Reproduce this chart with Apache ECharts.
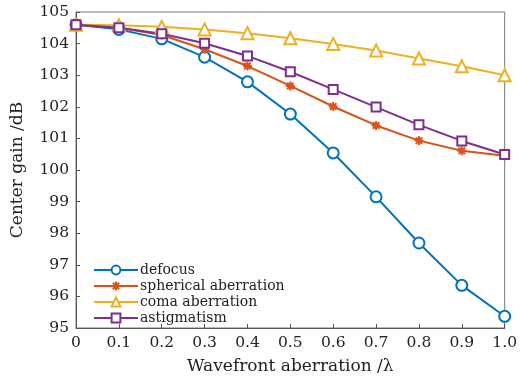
<!DOCTYPE html>
<html>
<head>
<meta charset="utf-8">
<script src="https://cdn.jsdelivr.net/npm/echarts@6/dist/echarts.min.js"></script>
<style>
  html, body { margin: 0; padding: 0; background: #fff; }
  #chart { width: 520px; height: 383px; }
</style>
</head>
<body>
<div id="chart"></div>
<script>
// wavefront aberration (lambda)
const aberration = [0, 0.1, 0.2, 0.3, 0.4, 0.5, 0.6, 0.7, 0.8, 0.9, 1.0]

// center gain (dB)
const defocus = [104.6, 104.45, 104.15, 103.57, 102.79, 101.77, 100.54, 99.15, 97.69, 96.35, 95.37]
const spherical = [104.6, 104.5, 104.27, 103.82, 103.29, 102.66, 102.01, 101.41, 100.93, 100.61, 100.45]
const coma = [104.6, 104.58, 104.53, 104.45, 104.33, 104.17, 103.99, 103.78, 103.53, 103.28, 103.0]
const astigmatism = [104.6, 104.5, 104.31, 104.01, 103.61, 103.11, 102.55, 101.99, 101.43, 100.92, 100.49]

const FONT = 'DejaVu Serif'
const ASTERISK = 'path://M0,-5L0,5M-5,0L5,0M-3.6,-3.6L3.6,3.6M-3.6,3.6L3.6,-3.6'

const chart = echarts.init(document.getElementById('chart'), null, { renderer: 'canvas' })

function mk(name, data, color, symbol, size) {
  return {
    name,
    type: 'line',
    data: aberration.map((x, i) => [x, data[i]]),
    symbol,
    symbolSize: size,
    showAllSymbol: true,
    lineStyle: { color, width: 2 },
    itemStyle: { color: symbol === ASTERISK ? color : '#fff', borderColor: color, borderWidth: 2 },
    z: 3,
  }
}

const axisText = { fontFamily: FONT, fontSize: 15.5, color: '#222' }

chart.setOption({
  animation: false,
  grid: { left: 76, right: 13, top: 12, bottom: 55, show: true, borderColor: '#777', borderWidth: 1 },
  legend: {
    orient: 'vertical',
    left: 88,
    top: 257,
    itemWidth: 44,
    itemHeight: 11,
    itemGap: 0,
    textStyle: { fontFamily: FONT, fontSize: 14, lineHeight: 16, color: '#222', padding: [0, 0, 0, -3] },
    data: ['defocus', 'spherical aberration', 'coma aberration', 'astigmatism'],
  },
  xAxis: {
    type: 'value',
    min: 0,
    max: 1,
    interval: 0.1,
    axisLine: { show: true, lineStyle: { color: '#555', width: 1 } },
    axisTick: { show: true, inside: true, length: 4, lineStyle: { color: '#555' } },
    splitLine: { show: false },
    axisLabel: Object.assign({ margin: 7, formatter: v => (v === 0 ? '0' : v.toFixed(1)) }, axisText),
    name: 'Wavefront aberration /λ',
    nameLocation: 'middle',
    nameGap: 30,
    nameTextStyle: { fontFamily: FONT, fontSize: 17, color: '#222' },
  },
  yAxis: {
    type: 'value',
    min: 95,
    max: 105,
    interval: 1,
    axisLine: { show: true, lineStyle: { color: '#555', width: 1 } },
    axisTick: { show: true, inside: true, length: 4, lineStyle: { color: '#555' } },
    splitLine: { show: false },
    axisLabel: Object.assign({ margin: 7 }, axisText),
    name: 'Center gain /dB',
    nameLocation: 'middle',
    nameGap: 50,
    nameTextStyle: { fontFamily: FONT, fontSize: 17, color: '#222' },
  },
  series: [
    mk('defocus', defocus, '#0072BD', 'circle', 11),
    mk('spherical aberration', spherical, '#D95319', ASTERISK, 9),
    mk('coma aberration', coma, '#EDB120', 'triangle', 12),
    mk('astigmatism', astigmatism, '#7E2F8E', 'rect', 9),
  ],
})
</script>
</body>
</html>
